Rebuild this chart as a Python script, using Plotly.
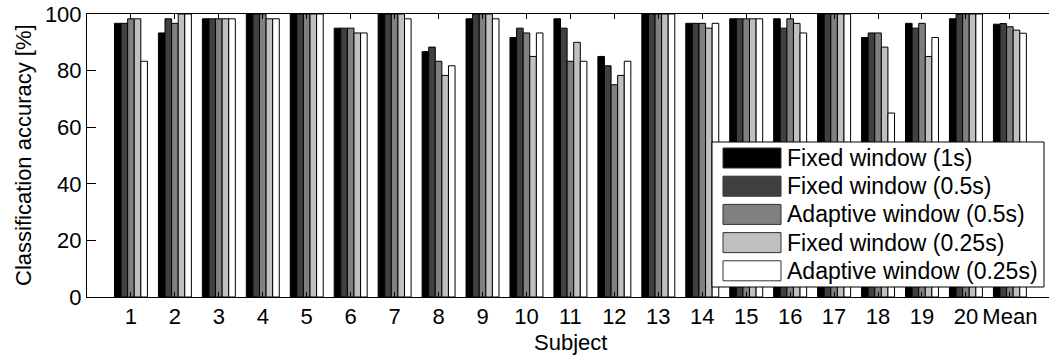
import plotly.graph_objects as go

subjects = [str(i) for i in range(1, 21)] + ["Mean"]
series_names = ["Fixed window (1s)", "Fixed window (0.5s)", "Adaptive window (0.5s)",
                "Fixed window (0.25s)", "Adaptive window (0.25s)"]
colors = ["#000000", "#404040", "#808080", "#c0c0c0", "#ffffff"]

fixed_1s = [96.7, 93.3, 98.3, 100, 100, 95, 100, 86.7, 98.3, 91.7,
            98.3, 85, 100, 96.7, 98.3, 98.3, 100, 91.7, 96.7, 98.3, 96.4]
fixed_05s = [96.7, 98.3, 98.3, 100, 100, 95, 100, 88.3, 100, 95,
             95, 81.7, 100, 96.7, 98.3, 95, 100, 93.3, 95, 100, 96.6]
adaptive_05s = [98.3, 96.7, 98.3, 100, 100, 95, 100, 83.3, 100, 93.3,
                83.3, 75, 100, 96.7, 98.3, 98.3, 100, 93.3, 96.7, 100, 95.5]
fixed_025s = [98.3, 100, 98.3, 98.3, 100, 93.3, 100, 78.3, 100, 85,
              90, 78.3, 100, 95, 98.3, 96.7, 100, 88.3, 85, 100, 94.3]
adaptive_025s = [83.3, 100, 98.3, 98.3, 100, 93.3, 98.3, 81.7, 98.3, 93.3,
                 83.3, 83.3, 100, 96.7, 98.3, 93.3, 100, 65, 91.7, 100, 93.2]
all_series = [fixed_1s, fixed_05s, adaptive_05s, fixed_025s, adaptive_025s]
x_title = "Subject"
y_title = "Classification accuracy [%]"

W, H = 1049, 358
L, R, T, B = 87, 0, 14, 61
PW, PH = W - L - R, H - T - B
FONT = "Liberation Sans, Arial, sans-serif"
FS = 22
LFS = 23

fig = go.Figure()
for name, vals, c in zip(series_names, all_series, colors):
    fig.add_trace(go.Bar(x=subjects, y=vals, name=name, marker_color=c,
                         marker_line=dict(color="#000000", width=1),
                         showlegend=False))

def px_x(p):
    return (p - L) / PW

def px_y(p):
    return (H - B - p) / PH

shapes = [dict(type="rect", xref="paper", yref="paper",
               x0=px_x(712), x1=px_x(1044), y0=px_y(287), y1=px_y(142),
               fillcolor="white", line=dict(color="black", width=1), layer="above")]
annotations = []
for i, (name, c) in enumerate(zip(series_names, colors)):
    top = 148 + i * 28.2
    shapes.append(dict(type="rect", xref="paper", yref="paper",
                       x0=px_x(723), x1=px_x(781), y0=px_y(top + 20), y1=px_y(top),
                       fillcolor=c, line=dict(color="#333333", width=1), layer="above"))
    annotations.append(dict(xref="paper", yref="paper", x=px_x(785), y=px_y(top + 10),
                            text=name, showarrow=False, xanchor="left", yanchor="middle",
                            font=dict(family=FONT, size=LFS, color="black")))

annotations.append(dict(xref="paper", yref="paper", x=px_x(570), y=px_y(342),
                        text=x_title, showarrow=False, xanchor="center", yanchor="middle",
                        font=dict(family=FONT, size=FS, color="black")))
annotations.append(dict(xref="paper", yref="paper", x=px_x(23), y=px_y(155),
                        text=y_title, showarrow=False, xanchor="center", yanchor="middle",
                        textangle=-90,
                        font=dict(family=FONT, size=FS, color="black")))

fig.update_layout(
    width=W, height=H,
    margin=dict(l=L, r=R, t=T, b=B, autoexpand=False),
    paper_bgcolor="white", plot_bgcolor="white",
    barmode="group", bargap=0.25, bargroupgap=0,
    font=dict(family=FONT, size=FS, color="black"),
    shapes=shapes, annotations=annotations,
    xaxis=dict(type="category", range=[-1, 20.89], showline=True, linecolor="black",
               linewidth=1, mirror="ticks", ticks="inside", ticklen=5,
               tickcolor="black", showgrid=False, zeroline=False, automargin=False,
               tickfont=dict(size=FS)),
    yaxis=dict(range=[0, 100], tickvals=[0, 20, 40, 60, 80, 100], showline=True,
               linecolor="black", linewidth=1, mirror=False, ticks="inside",
               ticklen=9, tickcolor="black", showgrid=False, zeroline=False,
               automargin=False, ticklabeloverflow="allow",
               tickfont=dict(size=FS)),
)

# remove the default 8px page margin so the figure sits at the window's corner
fig.write_html("out.html", config={"displayModeBar": False},
               post_script="document.body.style.margin='0';document.body.style.overflow='hidden';")
